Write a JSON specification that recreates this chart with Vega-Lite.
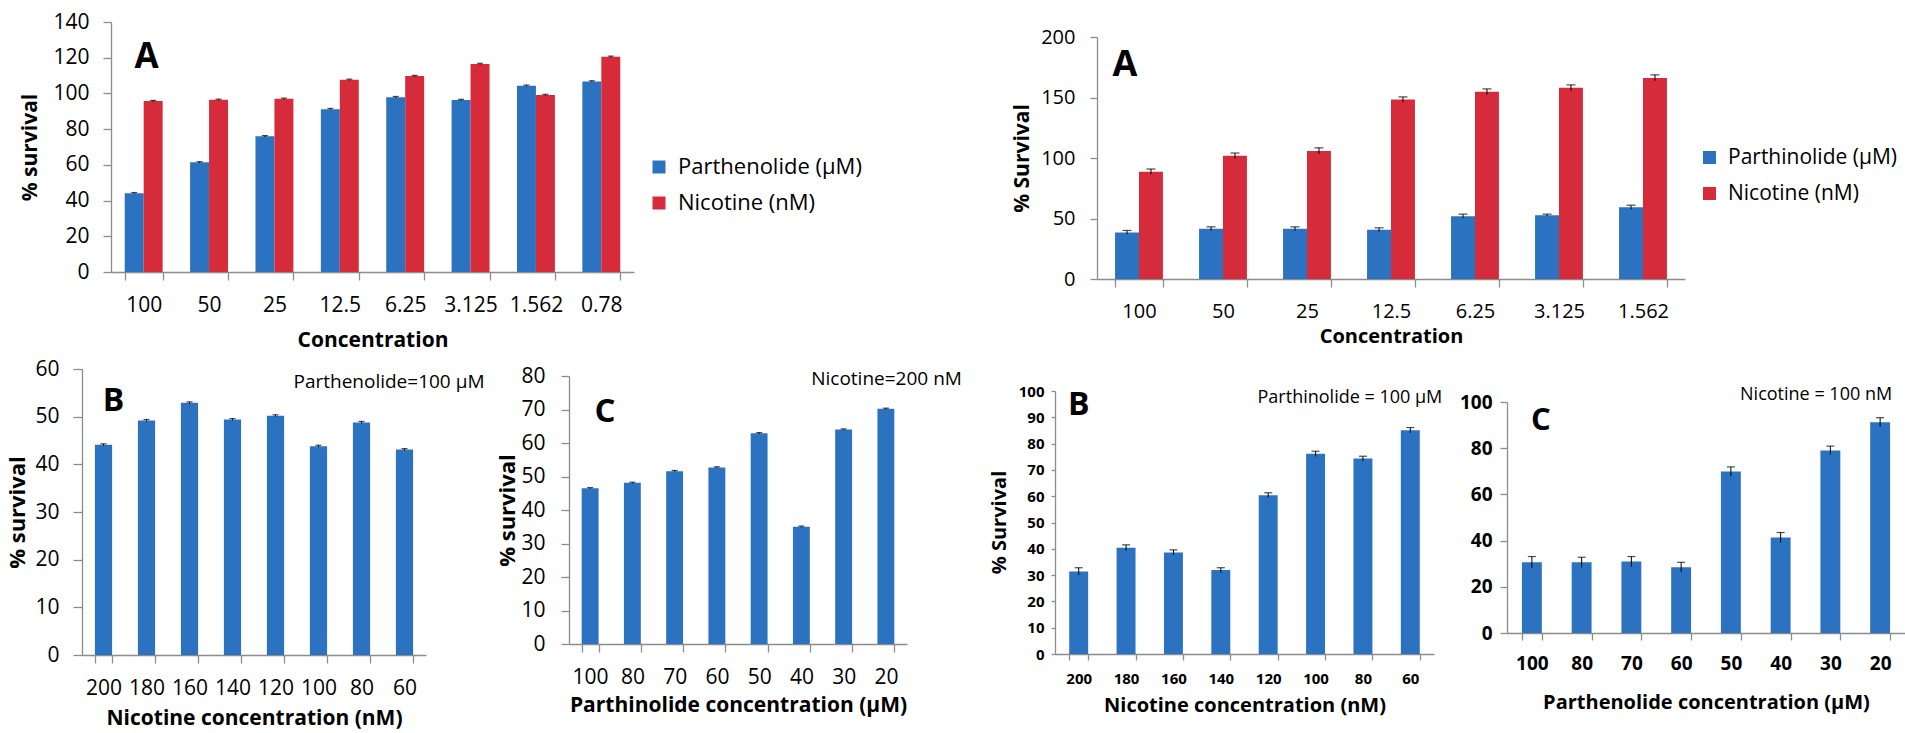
{
  "$schema": "https://vega.github.io/schema/vega-lite/v6.json",
  "background": "white",
  "padding": {"left": 6, "top": 11, "right": 0, "bottom": 4},
  "config": {
    "view": {"stroke": null},
    "font": "Open Sans",
    "axis": {"grid": false, "domainColor": "#8c8c8c", "tickColor": "#8c8c8c", "domainWidth": 1.3, "tickWidth": 1.3, "labelColor": "#000", "titleColor": "#000", "labelFont": "Open Sans", "titleFont": "Open Sans", "labelOverlap": false, "labelFlush": false},
    "text": {"font": "Open Sans", "color": "#000"},
    "legend": {"labelFont": "Open Sans", "labelColor": "#000", "labelLimit": 0}
  },
  "datasets": {
    "a1": [
      {"conc": "100", "series": "Parthenolide (µM)", "value": 44.1, "lo": 43.7, "hi": 44.5},
      {"conc": "100", "series": "Nicotine (nM)", "value": 95.7, "lo": 95.3, "hi": 96.1},
      {"conc": "50", "series": "Parthenolide (µM)", "value": 61.4, "lo": 61.0, "hi": 61.8},
      {"conc": "50", "series": "Nicotine (nM)", "value": 96.4, "lo": 96.0, "hi": 96.8},
      {"conc": "25", "series": "Parthenolide (µM)", "value": 76.0, "lo": 75.6, "hi": 76.4},
      {"conc": "25", "series": "Nicotine (nM)", "value": 97.0, "lo": 96.6, "hi": 97.4},
      {"conc": "12.5", "series": "Parthenolide (µM)", "value": 91.2, "lo": 90.8, "hi": 91.6},
      {"conc": "12.5", "series": "Nicotine (nM)", "value": 107.6, "lo": 107.2, "hi": 108.0},
      {"conc": "6.25", "series": "Parthenolide (µM)", "value": 97.9, "lo": 97.5, "hi": 98.3},
      {"conc": "6.25", "series": "Nicotine (nM)", "value": 109.7, "lo": 109.3, "hi": 110.1},
      {"conc": "3.125", "series": "Parthenolide (µM)", "value": 96.3, "lo": 95.9, "hi": 96.7},
      {"conc": "3.125", "series": "Nicotine (nM)", "value": 116.5, "lo": 116.1, "hi": 116.9},
      {"conc": "1.562", "series": "Parthenolide (µM)", "value": 104.3, "lo": 103.9, "hi": 104.7},
      {"conc": "1.562", "series": "Nicotine (nM)", "value": 99.1, "lo": 98.7, "hi": 99.5},
      {"conc": "0.78", "series": "Parthenolide (µM)", "value": 106.7, "lo": 106.3, "hi": 107.1},
      {"conc": "0.78", "series": "Nicotine (nM)", "value": 120.5, "lo": 120.1, "hi": 120.9}
    ],
    "a2": [
      {"conc": "100", "series": "Parthinolide (µM)", "value": 38.5, "lo": 37.0, "hi": 40.1},
      {"conc": "100", "series": "Nicotine (nM)", "value": 88.7, "lo": 86.5, "hi": 90.9},
      {"conc": "50", "series": "Parthinolide (µM)", "value": 41.5, "lo": 40.0, "hi": 43.1},
      {"conc": "50", "series": "Nicotine (nM)", "value": 101.9, "lo": 99.7, "hi": 104.1},
      {"conc": "25", "series": "Parthinolide (µM)", "value": 41.5, "lo": 40.0, "hi": 43.1},
      {"conc": "25", "series": "Nicotine (nM)", "value": 105.8, "lo": 103.3, "hi": 108.4},
      {"conc": "12.5", "series": "Parthinolide (µM)", "value": 40.7, "lo": 39.2, "hi": 42.3},
      {"conc": "12.5", "series": "Nicotine (nM)", "value": 148.4, "lo": 146.3, "hi": 150.5},
      {"conc": "6.25", "series": "Parthinolide (µM)", "value": 51.9, "lo": 50.3, "hi": 53.6},
      {"conc": "6.25", "series": "Nicotine (nM)", "value": 154.7, "lo": 152.4, "hi": 157.1},
      {"conc": "3.125", "series": "Parthinolide (µM)", "value": 52.7, "lo": 51.9, "hi": 53.6},
      {"conc": "3.125", "series": "Nicotine (nM)", "value": 158.0, "lo": 155.6, "hi": 160.4},
      {"conc": "1.562", "series": "Parthinolide (µM)", "value": 59.3, "lo": 57.6, "hi": 61.0},
      {"conc": "1.562", "series": "Nicotine (nM)", "value": 166.2, "lo": 163.8, "hi": 168.7}
    ],
    "b1": [
      {"conc": "200", "value": 44.1, "lo": 43.9, "hi": 44.3},
      {"conc": "180", "value": 49.2, "lo": 49.0, "hi": 49.4},
      {"conc": "160", "value": 52.9, "lo": 52.7, "hi": 53.1},
      {"conc": "140", "value": 49.4, "lo": 49.2, "hi": 49.6},
      {"conc": "120", "value": 50.2, "lo": 50.0, "hi": 50.4},
      {"conc": "100", "value": 43.8, "lo": 43.6, "hi": 44.0},
      {"conc": "80", "value": 48.8, "lo": 48.6, "hi": 49.0},
      {"conc": "60", "value": 43.1, "lo": 42.9, "hi": 43.3}
    ],
    "c1": [
      {"conc": "100", "value": 46.5, "lo": 46.3, "hi": 46.7},
      {"conc": "80", "value": 48.1, "lo": 47.9, "hi": 48.3},
      {"conc": "70", "value": 51.6, "lo": 51.4, "hi": 51.8},
      {"conc": "60", "value": 52.7, "lo": 52.5, "hi": 52.9},
      {"conc": "50", "value": 62.9, "lo": 62.7, "hi": 63.1},
      {"conc": "40", "value": 35.0, "lo": 34.8, "hi": 35.2},
      {"conc": "30", "value": 64.0, "lo": 63.8, "hi": 64.2},
      {"conc": "20", "value": 70.2, "lo": 70.0, "hi": 70.4}
    ],
    "b2": [
      {"conc": "200", "value": 31.4, "lo": 30.0, "hi": 32.8},
      {"conc": "180", "value": 40.4, "lo": 39.3, "hi": 41.5},
      {"conc": "160", "value": 38.6, "lo": 37.6, "hi": 39.6},
      {"conc": "140", "value": 31.9, "lo": 31.0, "hi": 32.8},
      {"conc": "120", "value": 60.4, "lo": 59.5, "hi": 61.3},
      {"conc": "100", "value": 76.1, "lo": 75.1, "hi": 77.1},
      {"conc": "80", "value": 74.3, "lo": 73.4, "hi": 75.2},
      {"conc": "60", "value": 85.1, "lo": 84.1, "hi": 86.1}
    ],
    "c2": [
      {"conc": "100", "value": 30.6, "lo": 28.1, "hi": 33.1},
      {"conc": "80", "value": 30.6, "lo": 28.4, "hi": 32.8},
      {"conc": "70", "value": 30.9, "lo": 28.7, "hi": 33.1},
      {"conc": "60", "value": 28.5, "lo": 26.4, "hi": 30.6},
      {"conc": "50", "value": 69.9, "lo": 67.9, "hi": 71.9},
      {"conc": "40", "value": 41.3, "lo": 39.1, "hi": 43.5},
      {"conc": "30", "value": 79.0, "lo": 77.1, "hi": 80.9},
      {"conc": "20", "value": 91.2, "lo": 89.2, "hi": 93.2}
    ]
  },
  "spacing": 8,
  "resolve": {"scale": {"color": "independent", "xOffset": "independent", "x": "independent", "y": "independent"}, "legend": {"color": "independent"}},
  "vconcat": [
    {
      "bounds": "flush",
      "spacing": 0,
      "resolve": {"scale": {"color": "independent", "xOffset": "independent", "x": "independent", "y": "independent"}, "legend": {"color": "independent"}},
      "hconcat": [
        {"width": 29, "height": 1, "data": {"values": []}, "mark": "point"},
        {
          "width": 523, "height": 250,
          "layer": [
            {
              "data": {"name": "a1"},
              "mark": {"type": "bar", "color": "#2b73c0"},
              "encoding": {
                "x": {"field": "conc", "type": "nominal", "scale": {"domain": ["100", "50", "25", "12.5", "6.25", "3.125", "1.562", "0.78"], "paddingInner": 0.42, "paddingOuter": 0.21},
                  "axis": {"title": "Concentration", "labelAngle": 0, "tickBand": "extent", "tickSize": 8, "labelPadding": 25, "labelBaseline": "middle", "labelFontSize": 21, "titleFontSize": 21, "titleFontWeight": "bold", "titleY": 68, "titleBaseline": "middle", "labelOverlap": false}},
                "xOffset": {"field": "series", "type": "nominal", "scale": {"domain": ["Parthenolide (µM)", "Nicotine (nM)"]}},
                "y": {"field": "value", "type": "quantitative", "scale": {"domain": [0, 140], "nice": false},
                  "axis": {"title": "% survival", "values": [0, 20, 40, 60, 80, 100, 120, 140], "tickCount": 40, "tickSize": 8, "labelPadding": 14, "labelFontSize": 21, "titleFontSize": 21, "titleFontWeight": "bold", "titleX": -81, "titleY": 125, "titleBaseline": "middle", "titleAlign": "center", "labelOverlap": false}},
                "color": {"field": "series", "type": "nominal", "scale": {"domain": ["Parthenolide (µM)", "Nicotine (nM)"], "range": ["#2b73c0", "#d62b3b"]},
                  "legend": {"title": null, "orient": "none", "legendX": 537, "legendY": 134, "symbolType": "square", "symbolSize": 169, "symbolStrokeWidth": 0, "labelFontSize": 22, "rowPadding": 14, "labelOffset": 8, "labelLimit": 0}}
              }
            },
            {
              "data": {"name": "a1"},
              "mark": {"type": "rule", "color": "#000", "strokeWidth": 1},
              "encoding": {
                "x": {"field": "conc", "type": "nominal"},
                "xOffset": {"field": "series", "type": "nominal"},
                "y": {"field": "lo", "type": "quantitative", "title": "% survival"},
                "y2": {"field": "hi"}
              }
            },
            {
              "data": {"name": "a1"},
              "mark": {"type": "tick", "color": "#000", "size": 6, "thickness": 1.2},
              "encoding": {
                "x": {"field": "conc", "type": "nominal"},
                "xOffset": {"field": "series", "type": "nominal"},
                "y": {"field": "hi", "type": "quantitative", "title": "% survival"}
              }
            },
            {
              "data": {"values": [{}]},
              "mark": {"type": "text", "text": "A", "fontSize": 35, "fontWeight": "bold", "align": "center", "baseline": "alphabetic", "dx": 3},
              "encoding": {"x": {"datum": "100"}, "y": {"datum": 114}}
            }
          ]
        },
        {"width": 463, "height": 1, "data": {"values": []}, "mark": "point"},
        {
          "width": 588, "height": 257,
          "layer": [
            {
              "data": {"name": "a2"},
              "mark": {"type": "bar", "color": "#2b73c0"},
              "encoding": {
                "x": {"field": "conc", "type": "nominal", "scale": {"domain": ["100", "50", "25", "12.5", "6.25", "3.125", "1.562"], "paddingInner": 0.43, "paddingOuter": 0.215},
                  "axis": {"title": "Concentration", "labelAngle": 0, "tickBand": "extent", "tickSize": 8, "labelPadding": 24, "labelBaseline": "middle", "labelFontSize": 20, "titleFontSize": 20, "titleFontWeight": "bold", "titleY": 57, "titleBaseline": "middle", "labelOverlap": false}},
                "xOffset": {"field": "series", "type": "nominal", "scale": {"domain": ["Parthinolide (µM)", "Nicotine (nM)"]}},
                "y": {"field": "value", "type": "quantitative", "scale": {"domain": [0, 200], "nice": false, "range": [257, 15]},
                  "axis": {"title": "% Survival", "values": [0, 50, 100, 150, 200], "tickCount": 40, "tickSize": 7, "labelPadding": 15, "labelFontSize": 20, "titleFontSize": 21, "titleFontWeight": "bold", "titleX": -75, "titleY": 136, "titleBaseline": "middle", "titleAlign": "center", "labelOverlap": false}},
                "color": {"field": "series", "type": "nominal", "scale": {"domain": ["Parthinolide (µM)", "Nicotine (nM)"], "range": ["#2b73c0", "#d62b3b"]},
                  "legend": {"title": null, "orient": "none", "legendX": 602, "legendY": 125, "symbolType": "square", "symbolSize": 169, "symbolStrokeWidth": 0, "labelFontSize": 21, "rowPadding": 14, "labelOffset": 8, "labelLimit": 0}}
              }
            },
            {
              "data": {"name": "a2"},
              "mark": {"type": "rule", "color": "#000", "strokeWidth": 1},
              "encoding": {
                "x": {"field": "conc", "type": "nominal"},
                "xOffset": {"field": "series", "type": "nominal"},
                "y": {"field": "lo", "type": "quantitative", "title": "% Survival"},
                "y2": {"field": "hi"}
              }
            },
            {
              "data": {"name": "a2"},
              "mark": {"type": "tick", "color": "#000", "size": 9, "thickness": 1.2},
              "encoding": {
                "x": {"field": "conc", "type": "nominal"},
                "xOffset": {"field": "series", "type": "nominal"},
                "y": {"field": "hi", "type": "quantitative", "title": "% Survival"}
              }
            },
            {
              "data": {"values": [{}]},
              "mark": {"type": "text", "text": "A", "fontSize": 36, "fontWeight": "bold", "align": "center", "baseline": "alphabetic", "dx": -14},
              "encoding": {"x": {"datum": "100"}, "y": {"datum": 167.8}}
            }
          ]
        }
      ]
    },
    {
      "bounds": "flush",
      "spacing": 0,
      "hconcat": [
        {
          "width": 344, "height": 286,
          "layer": [
            {
              "data": {"name": "b1"},
              "mark": {"type": "bar", "color": "#2b73c0"},
              "encoding": {
                "x": {"field": "conc", "type": "nominal", "scale": {"domain": ["200", "180", "160", "140", "120", "100", "80", "60"], "paddingInner": 0.6, "paddingOuter": 0.3},
                  "axis": {"title": "Nicotine concentration (nM)", "labelAngle": 0, "tickBand": "extent", "tickSize": 8, "labelPadding": 25, "labelBaseline": "middle", "labelFontSize": 21, "titleFontSize": 21, "titleFontWeight": "bold", "titleY": 63, "titleBaseline": "middle", "labelOverlap": false}},
                "y": {"field": "value", "type": "quantitative", "scale": {"domain": [0, 60], "nice": false},
                  "axis": {"title": "% survival", "values": [0, 10, 20, 30, 40, 50, 60], "tickCount": 40, "tickSize": 9, "labelPadding": 14, "labelFontSize": 21, "titleFontSize": 22, "titleFontWeight": "bold", "titleX": -65, "titleY": 143, "titleBaseline": "middle", "titleAlign": "center", "labelOverlap": false}}
              }
            },
            {
              "data": {"name": "b1"},
              "mark": {"type": "rule", "color": "#000", "strokeWidth": 1},
              "encoding": {"x": {"field": "conc", "type": "nominal"}, "y": {"field": "lo", "type": "quantitative", "title": "% survival"}, "y2": {"field": "hi"}}
            },
            {
              "data": {"name": "b1"},
              "mark": {"type": "tick", "color": "#000", "size": 6, "thickness": 1.2},
              "encoding": {"x": {"field": "conc", "type": "nominal"}, "y": {"field": "hi", "type": "quantitative", "title": "% survival"}}
            },
            {
              "data": {"values": [{}]},
              "mark": {"type": "text", "text": "B", "fontSize": 32, "fontWeight": "bold", "align": "center", "baseline": "alphabetic", "dx": 10},
              "encoding": {"x": {"datum": "200"}, "y": {"datum": 51.2}}
            },
            {
              "data": {"values": [{}]},
              "mark": {"type": "text", "text": "Parthenolide=100 µM", "fontSize": 19, "align": "right", "baseline": "middle", "dx": 80},
              "encoding": {"x": {"datum": "60"}, "y": {"datum": 57.3}}
            }
          ]
        },
        {"width": 143, "height": 1, "data": {"values": []}, "mark": "point"},
        {
          "width": 338, "height": 275,
          "layer": [
            {
              "data": {"name": "c1"},
              "mark": {"type": "bar", "color": "#2b73c0"},
              "encoding": {
                "x": {"field": "conc", "type": "nominal", "scale": {"domain": ["100", "80", "70", "60", "50", "40", "30", "20"], "paddingInner": 0.6, "paddingOuter": 0.3},
                  "axis": {"title": "Parthinolide concentration (µM)", "labelAngle": 0, "tickBand": "extent", "tickSize": 8, "labelPadding": 25, "labelBaseline": "middle", "labelFontSize": 21, "titleFontSize": 21, "titleFontWeight": "bold", "titleY": 61, "titleBaseline": "middle", "labelOverlap": false}},
                "y": {"field": "value", "type": "quantitative", "scale": {"domain": [0, 80], "nice": false, "range": [275, 7]},
                  "axis": {"title": "% survival", "values": [0, 10, 20, 30, 40, 50, 60, 70, 80], "tickCount": 40, "tickSize": 8, "labelPadding": 16, "labelFontSize": 21, "titleFontSize": 22, "titleFontWeight": "bold", "titleX": -62, "titleY": 141, "titleBaseline": "middle", "titleAlign": "center", "labelOverlap": false}}
              }
            },
            {
              "data": {"name": "c1"},
              "mark": {"type": "rule", "color": "#000", "strokeWidth": 1},
              "encoding": {"x": {"field": "conc", "type": "nominal"}, "y": {"field": "lo", "type": "quantitative", "title": "% survival"}, "y2": {"field": "hi"}}
            },
            {
              "data": {"name": "c1"},
              "mark": {"type": "tick", "color": "#000", "size": 6, "thickness": 1.2},
              "encoding": {"x": {"field": "conc", "type": "nominal"}, "y": {"field": "hi", "type": "quantitative", "title": "% survival"}}
            },
            {
              "data": {"values": [{}]},
              "mark": {"type": "text", "text": "C", "fontSize": 33, "fontWeight": "bold", "align": "center", "baseline": "alphabetic", "dx": 15},
              "encoding": {"x": {"datum": "100"}, "y": {"datum": 66.3}}
            },
            {
              "data": {"values": [{}]},
              "mark": {"type": "text", "text": "Nicotine=200 nM", "fontSize": 19, "align": "right", "baseline": "middle", "dx": 76},
              "encoding": {"x": {"datum": "20"}, "y": {"datum": 79.1}}
            }
          ]
        },
        {"width": 148, "height": 1, "data": {"values": []}, "mark": "point"},
        {
          "width": 379, "height": 285,
          "layer": [
            {
              "data": {"name": "b2"},
              "mark": {"type": "bar", "color": "#2b73c0"},
              "encoding": {
                "x": {"field": "conc", "type": "nominal", "scale": {"domain": ["200", "180", "160", "140", "120", "100", "80", "60"], "paddingInner": 0.6, "paddingOuter": 0.3},
                  "axis": {"title": "Nicotine concentration (nM)", "labelAngle": 0, "tickBand": "extent", "tickSize": 6, "labelPadding": 18, "labelBaseline": "middle", "labelFontSize": 15, "labelFontWeight": "bold", "titleFontSize": 20, "titleFontWeight": "bold", "titleY": 51, "titleBaseline": "middle", "labelOverlap": false}},
                "y": {"field": "value", "type": "quantitative", "scale": {"domain": [0, 100], "nice": false, "range": [285, 22]},
                  "axis": {"title": "% Survival", "values": [0, 10, 20, 30, 40, 50, 60, 70, 80, 90, 100], "tickCount": 40, "tickSize": 4, "labelPadding": 7, "labelFontSize": 15, "labelFontWeight": "bold", "titleFontSize": 20, "titleFontWeight": "bold", "titleX": -56, "titleY": 153, "titleBaseline": "middle", "titleAlign": "center", "labelOverlap": false}}
              }
            },
            {
              "data": {"name": "b2"},
              "mark": {"type": "rule", "color": "#000", "strokeWidth": 1},
              "encoding": {"x": {"field": "conc", "type": "nominal"}, "y": {"field": "lo", "type": "quantitative", "title": "% Survival"}, "y2": {"field": "hi"}}
            },
            {
              "data": {"name": "b2"},
              "mark": {"type": "tick", "color": "#000", "size": 8, "thickness": 1.2},
              "encoding": {"x": {"field": "conc", "type": "nominal"}, "y": {"field": "hi", "type": "quantitative", "title": "% Survival"}}
            },
            {
              "data": {"values": [{}]},
              "mark": {"type": "text", "text": "B", "fontSize": 32, "fontWeight": "bold", "align": "center", "baseline": "alphabetic", "dx": 0},
              "encoding": {"x": {"datum": "200"}, "y": {"datum": 90.9}}
            },
            {
              "data": {"values": [{}]},
              "mark": {"type": "text", "text": "Parthinolide = 100 µM", "fontSize": 18, "align": "right", "baseline": "middle", "dx": 32},
              "encoding": {"x": {"datum": "60"}, "y": {"datum": 97.3}}
            }
          ]
        },
        {"width": 73, "height": 1, "data": {"values": []}, "mark": "point"},
        {
          "width": 398, "height": 264,
          "layer": [
            {
              "data": {"name": "c2"},
              "mark": {"type": "bar", "color": "#2b73c0"},
              "encoding": {
                "x": {"field": "conc", "type": "nominal", "scale": {"domain": ["100", "80", "70", "60", "50", "40", "30", "20"], "paddingInner": 0.6, "paddingOuter": 0.3},
                  "axis": {"title": "Parthenolide concentration (µM)", "labelAngle": 0, "tickBand": "extent", "tickSize": 7, "labelPadding": 23, "labelBaseline": "middle", "labelFontSize": 19, "labelFontWeight": "bold", "titleFontSize": 20, "titleFontWeight": "bold", "titleY": 69, "titleBaseline": "middle", "labelOverlap": false}},
                "y": {"field": "value", "type": "quantitative", "scale": {"domain": [0, 100], "nice": false, "range": [264, 33]},
                  "axis": {"title": null, "values": [0, 20, 40, 60, 80, 100], "tickCount": 40, "tickSize": 7, "labelPadding": 8, "labelFontSize": 19, "labelFontWeight": "bold", "labelOverlap": false}}
              }
            },
            {
              "data": {"name": "c2"},
              "mark": {"type": "rule", "color": "#000", "strokeWidth": 1},
              "encoding": {"x": {"field": "conc", "type": "nominal"}, "y": {"field": "lo", "type": "quantitative", "title": null}, "y2": {"field": "hi"}}
            },
            {
              "data": {"name": "c2"},
              "mark": {"type": "tick", "color": "#000", "size": 8, "thickness": 1.2},
              "encoding": {"x": {"field": "conc", "type": "nominal"}, "y": {"field": "hi", "type": "quantitative", "title": null}}
            },
            {
              "data": {"values": [{}]},
              "mark": {"type": "text", "text": "C", "fontSize": 31, "fontWeight": "bold", "align": "center", "baseline": "alphabetic", "dx": 9},
              "encoding": {"x": {"datum": "100"}, "y": {"datum": 87.9}}
            },
            {
              "data": {"values": [{}]},
              "mark": {"type": "text", "text": "Nicotine = 100 nM", "fontSize": 18, "align": "right", "baseline": "middle", "dx": 12},
              "encoding": {"x": {"datum": "20"}, "y": {"datum": 103}}
            }
          ]
        }
      ]
    }
  ]
}
